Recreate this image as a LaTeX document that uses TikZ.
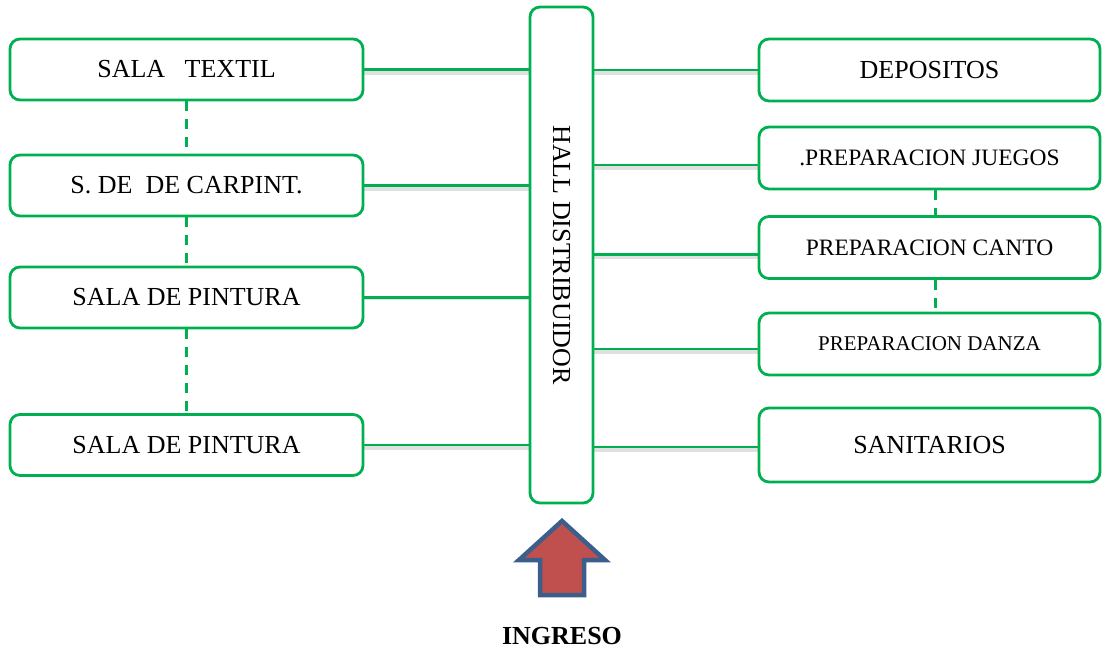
\documentclass[tikz,border=0pt]{standalone}
\usepackage{fontspec}
\setmainfont{Liberation Serif}
\definecolor{grn}{HTML}{00B050}
\definecolor{arrfill}{HTML}{C0504D}
\definecolor{arrline}{HTML}{3C5E8C}
\tikzset{
  room/.style={draw=grn, line width=2.8pt, rounded corners=10pt, fill=white, inner sep=0pt, align=center},
  lbox/.style={room, minimum width=353pt, minimum height=61pt, font=\fontsize{26}{30}\selectfont},
  rbox/.style={room, minimum width=341pt, minimum height=62pt, font=\fontsize{24}{28}\selectfont},
  link/.style={draw=grn, line width=2.6pt},
  dlink/.style={draw=grn, line width=2.6pt, dash pattern=on 10pt off 8pt},
  shad/.style={draw=black!12, line width=4pt},
}
\begin{document}
\begin{tikzpicture}[x=1pt,y=-1pt]
\useasboundingbox (0,0) rectangle (1105,651);
% shadows of connectors
\foreach \y/\a/\b in {73/363/530, 189/363/530, 298/363/530, 448/363/530, 73/593/759, 168/593/759, 257/593/759, 352/593/759, 450/593/759}
  \draw[shad] (\a,\y) -- (\b,\y);
% nodes
\node[lbox] (tex) at (186.5,69.5) {SALA\ \ \ TEXTIL};
\node[lbox] (car) at (186.5,185.5) {S. DE\ \ DE CARPINT.};
\node[lbox] (pi1) at (186.5,297.5) {SALA DE PINTURA};
\node[lbox] (pi2) at (186.5,445) {SALA DE PINTURA};
\node[room, minimum width=63pt, minimum height=496pt] (hall) at (561.5,255) {};
\node[rotate=-90, font=\fontsize{26}{30}\selectfont] (hallt) at (561.5,255) {HALL DISTRIBUIDOR};
\node[rbox, font=\fontsize{26}{30}\selectfont] (dep) at (929.5,70) {DEPOSITOS};
\node[rbox, font=\fontsize{23.5}{28}\selectfont] (jue) at (929.5,158) {.PREPARACION JUEGOS};
\node[rbox, font=\fontsize{23.5}{28}\selectfont] (can) at (929.5,247.5) {PREPARACION CANTO};
\node[rbox, font=\fontsize{21}{26}\selectfont] (dan) at (929.5,344) {PREPARACION DANZA};
\node[rbox, minimum height=74pt, font=\fontsize{26}{30}\selectfont] (san) at (929.5,445) {SANITARIOS};
% horizontal connectors
\foreach \n in {tex,car,pi1,pi2}
  \draw[link] (\n.east) -- (\n.east -| hall.west);
\draw[link] (hall.east |- dep.west) -- (dep.west);
\draw[link] ([yshift=-7pt]hall.east |- jue.west) -- ([yshift=-7pt]jue.west);
\draw[link] ([yshift=-7pt]hall.east |- can.west) -- ([yshift=-7pt]can.west);
\draw[link] ([yshift=-5pt]hall.east |- dan.west) -- ([yshift=-5pt]dan.west);
\draw[link] ([yshift=-2pt]hall.east |- san.west) -- ([yshift=-2pt]san.west);
% dashed vertical connectors
\draw[dlink] (tex.south) -- (car.north);
\draw[dlink] (car.south) -- (pi1.north);
\draw[dlink] (pi1.south) -- (pi2.north);
\draw[dlink] ([xshift=6pt]jue.south) -- ([xshift=6pt]can.north);
\draw[dlink] ([xshift=6pt]can.south) -- ([xshift=6pt]dan.north);
% entrance arrow
\coordinate (tip) at (562,521);
\draw[draw=arrline, fill=arrfill, line width=4.5pt, line join=miter]
  (tip) -- (605,560) -- (584,560) -- (584,595) -- (540,595) -- (540,560) -- (519,560) -- cycle;
\node[font=\bfseries\fontsize{26}{30}\selectfont] (ing) at (562,636) {INGRESO};
\end{tikzpicture}
\end{document}
